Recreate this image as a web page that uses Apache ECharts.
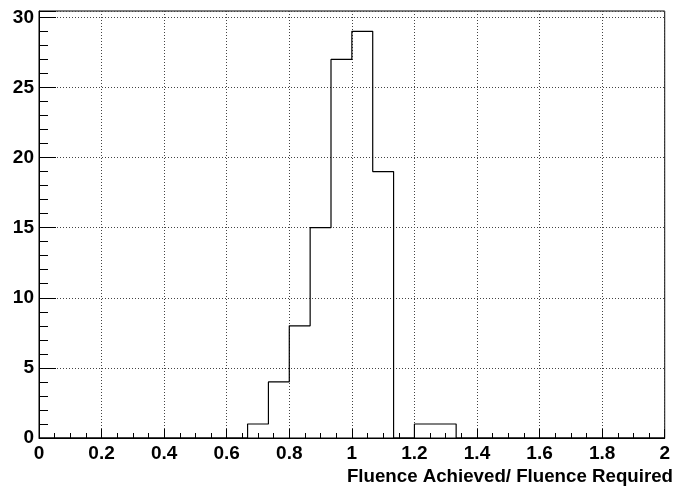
<!DOCTYPE html>
<html>
<head>
<meta charset="utf-8">
<script src="https://cdn.jsdelivr.net/npm/echarts@6/dist/echarts.min.js"></script>
<style>
  html, body { margin: 0; padding: 0; background: #fff; }
  #chart { width: 673px; height: 486px; }
</style>
</head>
<body>
<div id="chart"></div>
<script>
// histogram: 30 bins from 0 to 2
const binCount = 30;
const xMin = 0;
const xMax = 2;
const counts = [
  0, 0, 0, 0, 0, 0, 0, 0, 0, 0,
  1, 4, 8, 15, 27, 29, 19, 0, 1, 1,
  0, 0, 0, 0, 0, 0, 0, 0, 0, 0
];
const xTitle = 'Fluence Achieved/ Fluence Required';
const yMax = 30.45;

// step outline points at the left edge of each bin
const binWidth = (xMax - xMin) / binCount;
const outline = counts.map((c, i) => [xMin + i * binWidth, c]);
outline.push([xMax, 0]);

const font = 'Liberation Sans';

const chart = echarts.init(document.getElementById('chart'));
chart.setOption({
  animation: false,
  grid: {
    left: 39, right: 5, top: 11, bottom: 48,
    show: true, borderColor: '#000', borderWidth: 1
  },
  xAxis: {
    type: 'value',
    min: xMin, max: xMax, interval: 0.2,
    axisLine: { lineStyle: { color: '#000', width: 1 } },
    axisTick: { inside: true, length: 9, lineStyle: { color: '#000' } },
    minorTick: { show: true, splitNumber: 4, length: 5, lineStyle: { color: '#000' } },
    splitLine: { show: true, lineStyle: { color: '#444', type: [1, 2] } },
    axisLabel: {
      color: '#000', fontFamily: font, fontWeight: 'bold', fontSize: 19, margin: 6,
      formatter: v => (Math.round(v * 10) / 10).toString()
    }
  },
  yAxis: {
    type: 'value',
    min: 0, max: yMax, interval: 5,
    axisLine: { show: true, lineStyle: { color: '#000', width: 1 } },
    axisTick: { show: true, inside: true, length: 17, lineStyle: { color: '#000' } },
    minorTick: { show: true, splitNumber: 5, length: 9, lineStyle: { color: '#000' } },
    splitLine: { show: true, lineStyle: { color: '#444', type: [1, 2] } },
    axisLabel: {
      color: '#000', fontFamily: font, fontWeight: 'bold', fontSize: 19, margin: 5,
      showMaxLabel: false,
      formatter: v => (v % 5 === 0 ? String(v) : '')
    }
  },
  graphic: [{
    type: 'text',
    right: 0, top: 467,
    style: { text: xTitle, fill: '#000', font: 'bold 18.7px ' + font }
  }],
  series: [{
    type: 'line',
    step: 'end',
    data: outline,
    symbol: 'none',
    lineStyle: { color: '#000', width: 1.2 }
  }]
});
</script>
</body>
</html>
